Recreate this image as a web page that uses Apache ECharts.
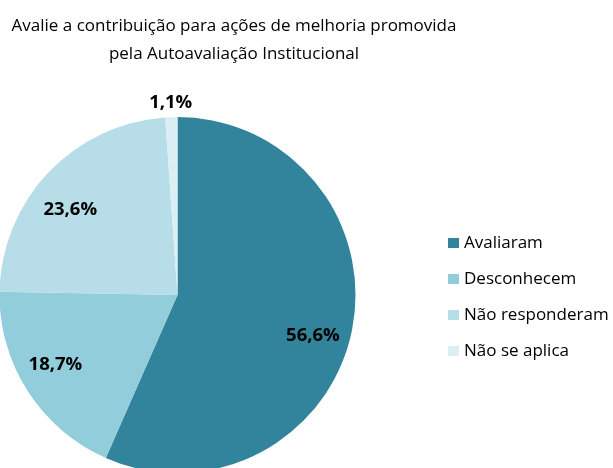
<!DOCTYPE html>
<html>
<head>
<meta charset="utf-8">
<script src="https://cdn.jsdelivr.net/npm/echarts@6/dist/echarts.min.js"></script>
<style>
  html, body { margin: 0; padding: 0; background: #ffffff; }
  #chart { width: 613px; height: 468px; }
</style>
</head>
<body>
<div id="chart"></div>
<script>
// Survey answers, share of respondents (%)
const categories = ['Avaliaram', 'Desconhecem', 'Não responderam', 'Não se aplica'];
const shares = [56.6, 18.7, 23.6, 1.1];
const sliceColors = ['#31849B', '#92CDDC', '#B7DEE8', '#DAEEF3'];
const titleLines = ['Avalie a contribuição para ações de melhoria promovida', 'pela Autoavaliação Institucional'];

const FONT = '"Open Sans", "Noto Sans", sans-serif';
const CENTER = [177.5, 295];
const R = 178;

// small nudges so each percentage sits where it reads best in its slice
const labelNudge = [[-4, 11], [-2, -7], [-4, 13], [0, 4]];

const fmt = v => v.toFixed(1).replace('.', ',') + '%';

// small slices get their label outside the pie, the rest inside
const isSmall = v => v < 5;

const pieData = categories.map((name, i) => ({
  name, value: shares[i], itemStyle: { color: sliceColors[i] }
}));

// transparent rings that only carry the percentage labels
const labelRing = (radius, showWhen) => ({
  type: 'pie',
  center: CENTER,
  radius: radius,
  startAngle: 90,
  clockwise: true,
  silent: true,
  animation: false,
  legendHoverLink: false,
  itemStyle: { color: 'rgba(0,0,0,0)', borderWidth: 0 },
  emphasis: { disabled: true },
  labelLine: { show: false },
  data: categories.map((name, i) => ({
    name, value: shares[i],
    label: {
      show: showWhen(shares[i]),
      position: 'inside',
      offset: labelNudge[i],
      formatter: () => fmt(shares[i]),
      fontFamily: FONT, fontWeight: 'bold', fontSize: 18.5, color: '#000000'
    }
  }))
});

const chart = echarts.init(document.getElementById('chart'), null, { renderer: 'canvas' });
chart.setOption({
  backgroundColor: '#ffffff',
  animation: false,
  title: {
    text: titleLines.join('\n'),
    left: 229, top: 7, textAlign: 'center',
    textStyle: { fontFamily: FONT, fontWeight: 'normal', fontSize: 17, color: '#000000', lineHeight: 28 }
  },
  legend: {
    orient: 'vertical',
    left: 443, top: 229,
    itemWidth: 11, itemHeight: 10, itemGap: 18,
    icon: 'rect',
    data: categories,
    textStyle: { fontFamily: FONT, fontSize: 17, color: '#000000', lineHeight: 18 },
    selectedMode: false
  },
  series: [
    {
      type: 'pie',
      center: CENTER,
      radius: R,
      startAngle: 90,
      clockwise: true,
      label: { show: false },
      labelLine: { show: false },
      emphasis: { disabled: true },
      itemStyle: { borderWidth: 0 },
      data: pieData
    },
    labelRing([101, R], v => !isSmall(v)),
    labelRing([R, 209], v => isSmall(v))
  ]
});
</script>
</body>
</html>
